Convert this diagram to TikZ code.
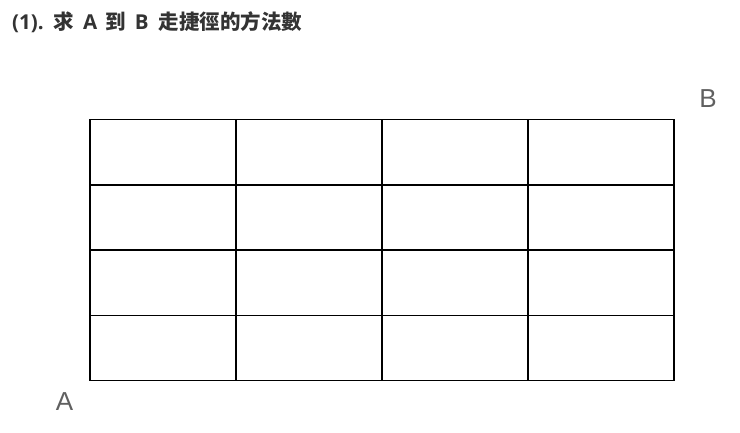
\documentclass[tikz,border=0pt]{standalone}
\usepackage{fontspec}
\setmainfont{Liberation Sans}
\newfontfamily\cjk{Noto Sans CJK TC}
\newfontfamily\latin{Open Sans}
\usepackage{tikz}
\definecolor{titlegray}{HTML}{333333}
\definecolor{labelgray}{HTML}{606060}
\newcommand{\gap}[1]{\hspace{#1pt}}

\begin{document}
\begin{tikzpicture}[x=1pt,y=-1pt,
  gridline/.style={line width=1.8pt},
  corner/.style={text=labelgray,font=\fontsize{26}{28}\selectfont}]
\useasboundingbox (0,0) rectangle (740,433);

% Title
\node[anchor=base west,inner sep=0pt,text=titlegray,font=\latin\bfseries\fontsize{20.5}{22}\selectfont] (title) at (12,30)
  {(1).\gap{10}{\cjk 求}\gap{9}A\gap{8}{\cjk 到}\gap{9}B\gap{10}{\cjk 走捷徑的方法數}};

% Outer frame
\draw[gridline] (90,119.5) rectangle (674,380.5);

% Rows
\draw[gridline] (90,185) -- (674,185);
\draw[gridline] (90,250) -- (674,250);
\draw[gridline] (90,315.5) -- (674,315.5);

% Columns
\draw[gridline] (236,119.5) -- (236,380.5);
\draw[gridline] (382,119.5) -- (382,380.5);
\draw[gridline] (528,119.5) -- (528,380.5);

% End points
\node[corner] (A) at (64.5,402) {A};
\node[corner] (B) at (708,99) {B};

\end{tikzpicture}
\end{document}
